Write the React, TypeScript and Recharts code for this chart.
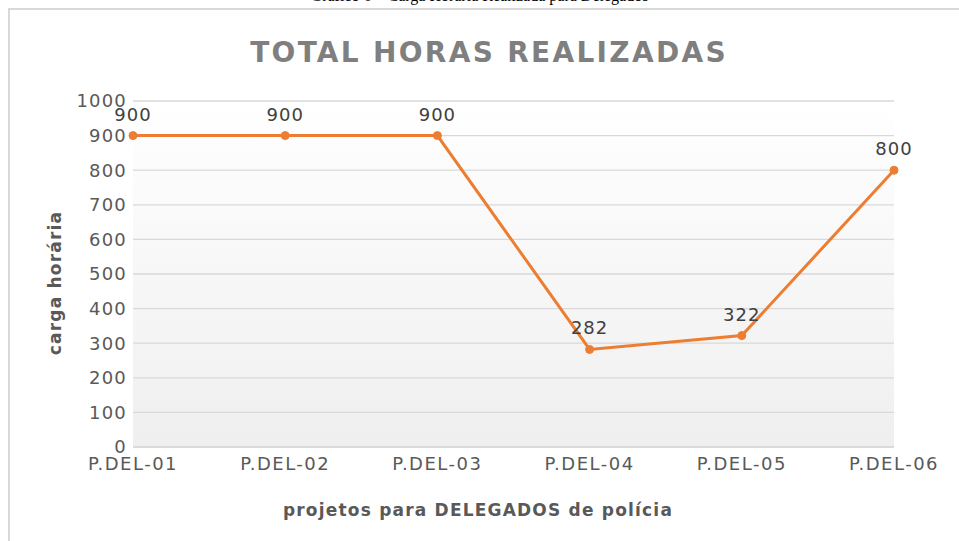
import { LineChart, Line, XAxis, YAxis, CartesianGrid, LabelList } from 'recharts';

const projetos = ['P.DEL-01', 'P.DEL-02', 'P.DEL-03', 'P.DEL-04', 'P.DEL-05', 'P.DEL-06'];
const horas = [900, 900, 900, 282, 322, 800];
const yTicks = [0, 100, 200, 300, 400, 500, 600, 700, 800, 900, 1000];

const data = projetos.map((p, i) => ({ projeto: p, horas: horas[i] }));

const font = '"DejaVu Sans", sans-serif';

export default function App() {
  return (
    <div style={{ position: 'fixed', left: 0, top: 0, width: 959, height: 541, background: '#fff', overflow: 'hidden' }}>
      <div
        style={{
          position: 'absolute', top: -13, left: 0, width: 959, textAlign: 'center',
          fontFamily: '"Liberation Serif", serif', fontSize: 16, color: '#000',
        }}
      >
        Gráfico 6 – Carga Horária Realizada para Delegados
      </div>
      <div
        style={{
          position: 'absolute', left: 8, top: 8, width: 960, height: 540,
          borderLeft: '2px solid #d9d9d9', borderTop: '2px solid #d9d9d9',
        }}
      />
      <div
        style={{
          position: 'absolute', top: 36, left: 0, width: 978, textAlign: 'center',
          fontFamily: font, fontWeight: 'bold', fontSize: 28, letterSpacing: 2.3, color: '#7f7f7f',
        }}
      >
        TOTAL HORAS REALIZADAS
      </div>
      <div
        style={{
          position: 'absolute', left: 55, top: 283, transform: 'translate(-50%, -50%) rotate(-90deg)',
          fontFamily: font, fontWeight: 'bold', fontSize: 17, letterSpacing: 1.2, color: '#595959', whiteSpace: 'nowrap',
        }}
      >
        carga horária
      </div>
      <div
        style={{
          position: 'absolute', top: 500, left: 0, width: 956, textAlign: 'center',
          fontFamily: font, fontWeight: 'bold', fontSize: 17, letterSpacing: 1.2, color: '#595959',
        }}
      >
        projetos para DELEGADOS de polícia
      </div>
      <LineChart
        width={959}
        height={541}
        data={data}
        margin={{ top: 101, right: 65, bottom: 64, left: 73 }}
        style={{ position: 'absolute', left: 0, top: 0 }}
      >
        <defs>
          <linearGradient id="fundo" x1="0" y1="0" x2="0" y2="1">
            <stop offset="0%" stopColor="#ffffff" />
            <stop offset="100%" stopColor="#efefef" />
          </linearGradient>
        </defs>
        <CartesianGrid vertical={false} stroke="#d9d9d9" strokeWidth={1.3} fill="url(#fundo)" fillOpacity={1} />
        <XAxis
          dataKey="projeto"
          height={30}
          axisLine={{ stroke: '#d9d9d9', strokeWidth: 1.3 }}
          tickLine={false}
          tick={{ fill: '#595959', fontSize: 18, fontFamily: font, letterSpacing: 1.5 }}
          tickMargin={4}
          interval={0}
        />
        <YAxis
          width={60}
          domain={[0, 1000]}
          ticks={yTicks}
          axisLine={false}
          tickLine={false}
          tick={{ fill: '#595959', fontSize: 18, fontFamily: font, letterSpacing: 1.2 }}
          tickMargin={0}
          interval={0}
        />
        <Line
          type="linear"
          dataKey="horas"
          stroke="#ed7d31"
          strokeWidth={3}
          dot={{ r: 4, fill: '#ed7d31', stroke: '#ed7d31', strokeWidth: 1 }}
          isAnimationActive={false}
        >
          <LabelList dataKey="horas" position="top" offset={15} fill="#404040" fontSize={18} fontFamily={font} letterSpacing={1} />
        </Line>
      </LineChart>
    </div>
  );
}
